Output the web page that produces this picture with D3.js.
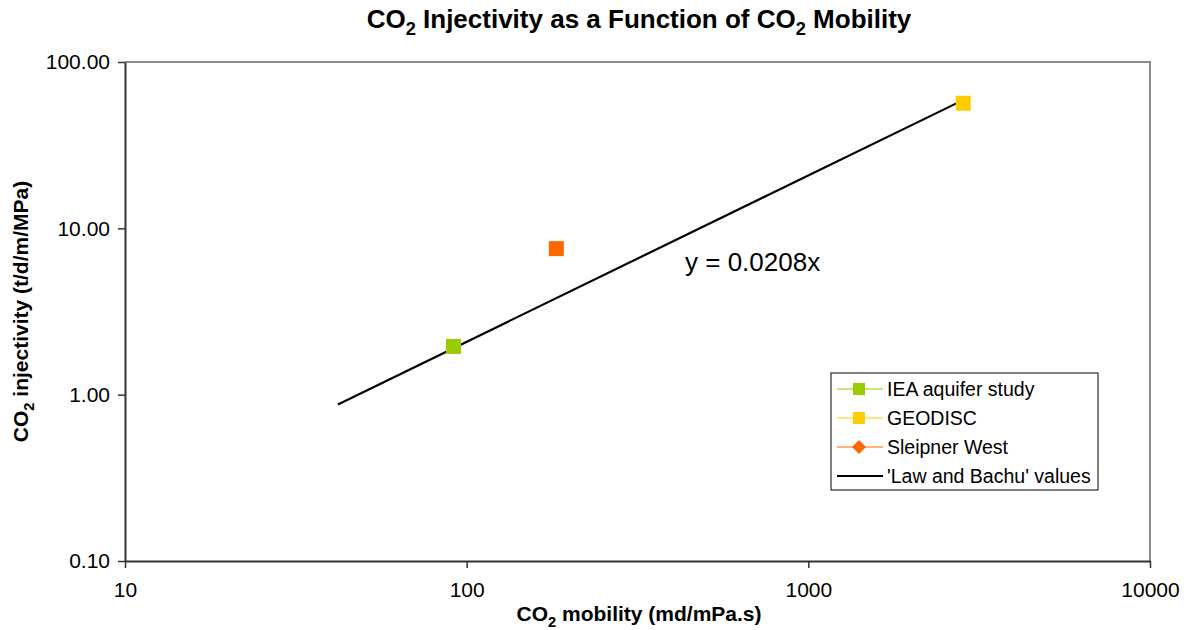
<!DOCTYPE html>
<html>
<head>
<meta charset="utf-8">
<script src="https://cdn.jsdelivr.net/npm/d3@7"></script>
<style>
  html, body { margin: 0; padding: 0; background: #fff; }
  svg { display: block; font-family: Arial, "Liberation Sans", sans-serif; }
</style>
</head>
<body>
<svg id="chart" width="1190" height="630"></svg>
<script>
// Field / study data: CO2 mobility (md/mPa.s) vs CO2 injectivity (t/d/m/MPa)
const seriesNames = ["IEA aquifer study", "GEODISC", "Sleipner West"];
const seriesColors = ["#99cc00", "#ffcc00", "#ff6600"];
const legendLineColors = ["#b7e04a", "#ffdd55", "#ff9955"];
const mobility = [91.5, 2840, 183];
const injectivity = [1.95, 56.5, 7.55];

// 'Law and Bachu' trend: y = slope * x over the plotted mobility range
const lawBachuSlope = [0.0208];
const lawBachuX = [42, 2740];

const xTicks = [10, 100, 1000, 10000];
const yTicks = [0.1, 1, 10, 100];

const svg = d3.select("#chart");
const m = { left: 125, right: 1150, top: 62, bottom: 561 };

const x = d3.scaleLog().domain([10, 10000]).range([m.left, m.right]);
const y = d3.scaleLog().domain([0.1, 100]).range([m.bottom, m.top]);

// Plot frame: grey top/right edges
svg.append("path")
  .attr("d", `M${m.left},${m.top}H${m.right}V${m.bottom}`)
  .attr("fill", "none").attr("stroke", "#8c8c8c").attr("stroke-width", 2);

// Axes
const xAxis = svg.append("g").attr("transform", `translate(0,${m.bottom})`)
  .call(d3.axisBottom(x).tickValues(xTicks).tickFormat(d3.format("d")).tickSizeInner(7).tickSizeOuter(0).tickPadding(14));
const yAxis = svg.append("g").attr("transform", `translate(${m.left},0)`)
  .call(d3.axisLeft(y).tickValues(yTicks).tickFormat(d3.format(".2f")).tickSizeInner(7).tickSizeOuter(0).tickPadding(8));

[xAxis, yAxis].forEach(g => {
  g.select(".domain").attr("stroke", "#333").attr("stroke-width", 2);
  g.selectAll(".tick line").attr("stroke", "#333").attr("stroke-width", 1.5);
  g.selectAll(".tick text").attr("fill", "#000").style("font-size", "21px")
    .style("font-family", "Arial, 'Liberation Sans', sans-serif");
});

// Trend line
const line = d3.line().x(d => x(d)).y(d => y(lawBachuSlope[0] * d));
svg.append("path").datum(lawBachuX)
  .attr("d", line).attr("fill", "none").attr("stroke", "#000").attr("stroke-width", 2.2);

// Data markers
const pts = mobility.map((v, i) => ({ x: v, y: injectivity[i], c: seriesColors[i] }));
svg.append("g").selectAll("rect").data(pts).join("rect")
  .attr("x", d => x(d.x) - 7.5).attr("y", d => y(d.y) - 7.5)
  .attr("width", 15).attr("height", 15)
  .attr("fill", d => d.c);

// Trend equation
svg.append("text").attr("x", 685).attr("y", 271)
  .style("font-size", "26px").attr("fill", "#000")
  .text(`y = ${lawBachuSlope[0]}x`);

// Text with subscript "2": the shift is undone on the following run
function subText(sel, parts, size) {
  const shift = size * 0.28;
  let back = 0;
  parts.forEach(p => {
    const t = sel.append("tspan").text(p.t);
    if (p.sub) {
      t.attr("dy", shift + back).style("font-size", (size * 0.7) + "px");
      back = -shift;
    } else {
      if (back) t.attr("dy", back);
      back = 0;
    }
  });
}
const title = svg.append("text").attr("x", 639).attr("y", 28)
  .attr("text-anchor", "middle").style("font-size", "26px").style("font-weight", "bold");
subText(title, [{t:"CO"},{t:"2",sub:true},{t:" Injectivity as a Function of CO"},{t:"2",sub:true},{t:" Mobility"}], 26);

const xl = svg.append("text").attr("x", 639).attr("y", 621)
  .attr("text-anchor", "middle").style("font-size", "21px").style("font-weight", "bold");
subText(xl, [{t:"CO"},{t:"2",sub:true},{t:" mobility (md/mPa.s)"}], 21);

const yl = svg.append("text").attr("transform", `translate(28,${(m.top + m.bottom) / 2}) rotate(-90)`)
  .attr("text-anchor", "middle").style("font-size", "21px").style("font-weight", "bold");
subText(yl, [{t:"CO"},{t:"2",sub:true},{t:" injectivity (t/d/m/MPa)"}], 21);

// Legend
const lg = svg.append("g").attr("transform", "translate(831,373)");
lg.append("rect").attr("width", 267).attr("height", 117)
  .attr("fill", "#fff").attr("stroke", "#000").attr("stroke-width", 1);
const entries = seriesNames.map((n, i) => ({ n, c: seriesColors[i], lc: legendLineColors[i], shape: i === 2 ? "diamond" : "square" }))
  .concat([{ n: "'Law and Bachu' values", c: "#000", lc: "#000", shape: "none" }]);
const rows = lg.selectAll("g").data(entries).join("g")
  .attr("transform", (d, i) => `translate(0,${16 + i * 29})`);
rows.append("line").attr("x1", 6).attr("x2", 52).attr("y1", 0).attr("y2", 0)
  .attr("stroke", d => d.lc).attr("stroke-width", d => d.shape === "none" ? 2 : 1.5);
rows.filter(d => d.shape === "square").append("rect")
  .attr("x", 22).attr("y", -6).attr("width", 12).attr("height", 12).attr("fill", d => d.c);
rows.filter(d => d.shape === "diamond").append("path")
  .attr("d", "M28,-7L35,0L28,7L21,0Z").attr("fill", d => d.c);
rows.append("text").attr("x", 56).attr("y", 7).style("font-size", "19.5px").text(d => d.n);
</script>
</body>
</html>
